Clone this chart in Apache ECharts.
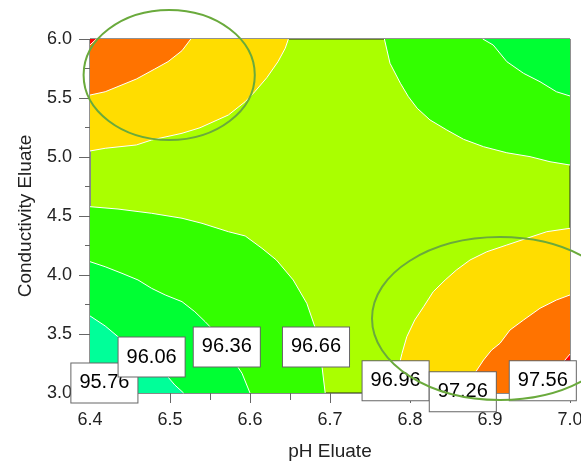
<!DOCTYPE html>
<html>
<head>
<meta charset="utf-8">
<script src="https://cdn.jsdelivr.net/npm/echarts@6/dist/echarts.min.js"></script>
<style>
  html, body { margin: 0; padding: 0; background: #fff; }
  #chart { width: 581px; height: 462px; }
</style>
</head>
<body>
<div id="chart"></div>
<script>
// Axis ranges and tick labels
const xTicks = [6.4, 6.5, 6.6, 6.7, 6.8, 6.9, 7.0];
const yTicks = [3.0, 3.5, 4.0, 4.5, 5.0, 5.5, 6.0];
const xTitle = 'pH Eluate';
const yTitle = 'Conductivity Eluate';

// Contour levels of the response
const levels = [95.76, 96.06, 96.36, 96.66, 96.96, 97.26, 97.56];

// Contour lines, [pH, conductivity] points
// upper-left corner (response rises toward low pH / high conductivity)
const c9696UL = [[6.4,5.051],[6.419,5.074],[6.458,5.102],[6.477,5.144],[6.515,5.201],[6.5375,5.248],[6.573,5.356],[6.594,5.469],[6.606,5.553],[6.621,5.672],[6.635,5.808],[6.644,5.921],[6.648,6.0]];
const c9726UL = [[6.4,5.525],[6.419,5.553],[6.458,5.661],[6.481,5.746],[6.4975,5.808],[6.515,5.901],[6.526,6.0]];
const c9756UL = [[6.4,5.95],[6.408,6.0]];
// upper-right corner
const c9666UR = [[6.768,6.0],[6.775,5.794],[6.788,5.625],[6.798,5.511],[6.809,5.413],[6.825,5.314],[6.846,5.229],[6.867,5.150],[6.892,5.087],[6.921,5.036],[6.95,5.003],[6.975,4.960],[7.0,4.932]];
const c9636UR = [[6.891,6.0],[6.904,5.949],[6.921,5.808],[6.942,5.709],[6.9625,5.638],[6.983,5.553],[7.0,5.517]];
// lower-left corner
const c9666LL = [[6.4,4.579],[6.435,4.559],[6.477,4.523],[6.515,4.481],[6.540,4.438],[6.573,4.367],[6.594,4.331],[6.615,4.226],[6.633,4.127],[6.654,3.958],[6.671,3.760],[6.681,3.562],[6.690,3.223],[6.694,3.0]];
const c9636LL = [[6.4,4.113],[6.419,4.070],[6.440,4.014],[6.460,3.958],[6.477,3.887],[6.494,3.831],[6.515,3.774],[6.531,3.689],[6.544,3.604],[6.556,3.519],[6.5725,3.347],[6.590,3.167],[6.6,3.0]];
const c9606LL = [[6.4,3.653],[6.419,3.568],[6.435,3.477],[6.4625,3.339],[6.490,3.195],[6.506,3.068],[6.517,3.0]];
// lower-right corner
const c9696LR = [[7.0,4.396],[6.971,4.367],[6.946,4.311],[6.921,4.254],[6.896,4.197],[6.875,4.127],[6.858,4.042],[6.844,3.958],[6.829,3.858],[6.817,3.731],[6.806,3.619],[6.796,3.477],[6.790,3.336],[6.787,3.252],[6.7825,3.0]];
const c9726LR = [[7.0,3.831],[6.983,3.788],[6.9625,3.718],[6.942,3.619],[6.925,3.534],[6.9125,3.421],[6.902,3.364],[6.892,3.280],[6.881,3.167],[6.8725,3.0]];
const c9756LR = [[7.0,3.33],[6.99,3.25],[6.982,3.15],[6.977,3.0]];

// Contour label anchors [pH, conductivity, level]
const labelPoints = [
  [6.418, 3.085, 95.76],
  [6.477, 3.305, 96.06],
  [6.571, 3.390, 96.36],
  [6.6825, 3.390, 96.66],
  [6.782, 3.103, 96.96],
  [6.866, 3.011, 97.26],
  [6.966, 3.103, 97.56]
];

// Highlight ellipses: centre [pH, conductivity], radii in axis units
const ellipses = [
  { center: [6.499, 5.695], r: [0.107, 0.551] },
  { center: [6.9125, 3.631], r: [0.160, 0.690] }
];

// Fill colours per band
const bandColors = {
  b9576: '#00FF99', b9606: '#00FF33', b9636: '#33FF00',
  b9666: '#AAFF00', b9696: '#FFDD00', b9726: '#FF7300', b9756: '#FF0000'
};

// Filled regions: contour line closed through a plot corner
const regions = [
  { line: c9696UL, corner: [6.4, 6.0], color: bandColors.b9696 },
  { line: c9726UL, corner: [6.4, 6.0], color: bandColors.b9726 },
  { line: c9756UL, corner: [6.4, 6.0], color: bandColors.b9756 },
  { line: c9666UR, corner: [7.0, 6.0], color: bandColors.b9636 },
  { line: c9636UR, corner: [7.0, 6.0], color: bandColors.b9606 },
  { line: c9666LL, corner: [6.4, 3.0], color: bandColors.b9636 },
  { line: c9636LL, corner: [6.4, 3.0], color: bandColors.b9606 },
  { line: c9606LL, corner: [6.4, 3.0], color: bandColors.b9576 },
  { line: c9696LR, corner: [7.0, 3.0], color: bandColors.b9696 },
  { line: c9726LR, corner: [7.0, 3.0], color: bandColors.b9726 },
  { line: c9756LR, corner: [7.0, 3.0], color: bandColors.b9756 }
];

const FONT = '"Liberation Sans", Arial, sans-serif';
const chart = echarts.init(document.getElementById('chart'));

function renderRegion(params, api) {
  const reg = regions[params.dataIndex];
  const pts = reg.line.map(p => api.coord(p));
  const poly = pts.concat([api.coord(reg.corner)]);
  return {
    type: 'group',
    children: [
      { type: 'polygon', shape: { points: poly }, style: { fill: reg.color, stroke: null } },
      { type: 'polyline', shape: { points: pts }, style: { stroke: '#ffffff', lineWidth: 1, fill: null } }
    ]
  };
}

const option = {
  animation: false,
  backgroundColor: '#ffffff',
  grid: {
    left: 90, right: 11, top: 39, bottom: 69,
    containLabel: false, outerBoundsMode: 'none',
    show: true, backgroundColor: bandColors.b9666,
    borderColor: '#222', borderWidth: 1
  },
  xAxis: {
    type: 'value', min: xTicks[0], max: xTicks[xTicks.length - 1], interval: 0.1,
    name: xTitle, nameLocation: 'middle', nameGap: 49,
    nameTextStyle: { fontFamily: FONT, fontSize: 19, color: '#222' },
    axisLine: { show: true, lineStyle: { color: '#888', width: 1 } },
    axisTick: { show: true, length: 10, lineStyle: { color: '#666' } },
    minorTick: { show: true, splitNumber: 2, length: 7, lineStyle: { color: '#666' } },
    splitLine: { show: false },
    axisLabel: { fontFamily: FONT, fontSize: 18, color: '#222', margin: 18,
      formatter: v => v.toFixed(1) }
  },
  yAxis: {
    type: 'value', min: yTicks[0], max: yTicks[yTicks.length - 1], interval: 0.5,
    name: yTitle, nameLocation: 'middle', nameGap: 55, nameRotate: 90,
    nameTextStyle: { fontFamily: FONT, fontSize: 19, color: '#222' },
    axisLine: { show: true, lineStyle: { color: '#888', width: 1 } },
    axisTick: { show: true, length: 11, lineStyle: { color: '#666' } },
    minorTick: { show: true, splitNumber: 2, length: 5, lineStyle: { color: '#666' } },
    splitLine: { show: false },
    axisLabel: { fontFamily: FONT, fontSize: 18, color: '#222', margin: 18,
      formatter: v => v.toFixed(1) }
  },
  series: [
    {
      type: 'custom',
      renderItem: renderRegion,
      data: regions.map((r, i) => [r.corner[0], r.corner[1], i]),
      silent: true,
      z: 1
    },
    {
      type: 'scatter',
      data: labelPoints,
      symbolSize: 0,
      itemStyle: { opacity: 1 },
      silent: true,
      z: 5,
      label: {
        show: true, position: 'inside',
        formatter: p => p.value[2].toFixed(2),
        fontFamily: FONT, fontSize: 20, color: '#000',
        backgroundColor: '#ffffff', borderColor: '#666', borderWidth: 1,
        padding: [9, 8, 8, 8], lineHeight: 22
      }
    }
  ]
};

chart.setOption(option);

// Highlight ellipses placed from axis units
const gfx = ellipses.map(e => {
  const c = chart.convertToPixel({ gridIndex: 0 }, e.center);
  const ex = chart.convertToPixel({ gridIndex: 0 }, [e.center[0] + e.r[0], e.center[1] + e.r[1]]);
  return {
    type: 'ellipse', z: 100, silent: true,
    shape: { cx: c[0], cy: c[1], rx: Math.abs(ex[0] - c[0]), ry: Math.abs(ex[1] - c[1]) },
    style: { fill: null, stroke: '#6AAA3C', lineWidth: 2 }
  };
});
chart.setOption({ graphic: gfx });
</script>
</body>
</html>
